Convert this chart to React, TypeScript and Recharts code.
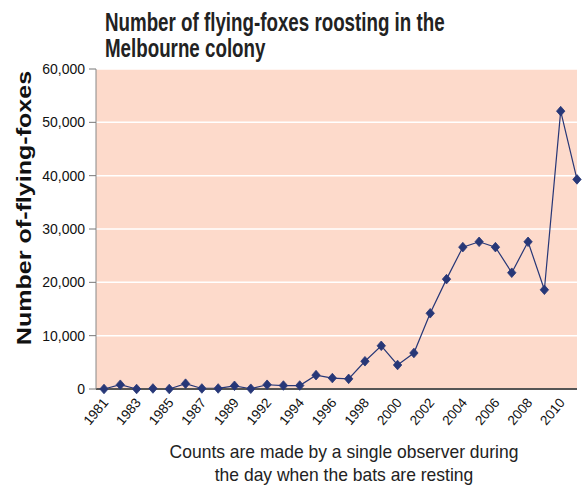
import { LineChart, Line, XAxis, YAxis, CartesianGrid } from 'recharts';

const years = [
  '1981', '1982', '1983', '1984', '1985', '1986', '1987', '1988', '1989', '1991',
  '1992', '1993', '1994', '1995', '1996', '1997', '1998', '1999', '2000', '2001',
  '2002', '2003', '2004', '2005', '2006', '2007', '2008', '2009', '2010', '2011',
];

const counts = [
  0, 800, 0, 100, 0, 1000, 100, 100, 600, 50,
  800, 650, 650, 2600, 2050, 1900, 5200, 8100, 4500, 6750,
  14200, 20600, 26600, 27600, 26600, 21800, 27600, 18600, 52100, 39300,
];

const yTicks = [0, 10000, 20000, 30000, 40000, 50000, 60000];

const data = years.map((year, i) => ({ year, count: counts[i] }));

const lineColor = '#273777';
const font = "'Liberation Sans', Arial, sans-serif";

// diamond marker
const Diamond = (props: any) => {
  const { cx, cy } = props;
  if (cx == null || cy == null) return null;
  const rx = 4.2;
  const ry = 4.8;
  return (
    <path
      d={`M${cx},${cy - ry} L${cx + rx},${cy} L${cx},${cy + ry} L${cx - rx},${cy} Z`}
      fill={lineColor}
      stroke={lineColor}
      strokeWidth={0.8}
    />
  );
};

const YearTick = (props: any) => {
  const { x, y, payload } = props;
  const tx = x + 5;
  const ty = y + 6;
  return (
    <text
      x={tx}
      y={ty}
      textAnchor="end"
      transform={`rotate(-50, ${tx}, ${ty})`}
      fontSize={13.5}
      fontFamily={font}
      fill="#111"
    >
      {payload.value}
    </text>
  );
};

export default function App() {
  return (
    <div style={{ position: 'absolute', left: 0, top: 0, width: 588, height: 488, background: '#fff' }}>
      <div
        style={{
          position: 'absolute',
          left: 105,
          top: 9,
          fontFamily: font,
          fontWeight: 700,
          fontSize: 25,
          lineHeight: '26px',
          color: '#222',
          whiteSpace: 'nowrap',
          transform: 'scaleX(0.75)',
          transformOrigin: 'left top',
        }}
      >
        Number of flying-foxes roosting in the
        <br />
        Melbourne colony
      </div>

      <LineChart
        width={588}
        height={488}
        data={data}
        margin={{ top: 69, right: 11, bottom: 0, left: 0 }}
      >
        <CartesianGrid vertical={false} stroke="#ffffff" strokeWidth={1.5} fill="#fddacb" />
        <XAxis
          dataKey="year"
          interval={1}
          padding={{ left: 8, right: 0 }}
          tickLine={false}
          axisLine={{ stroke: '#555', strokeWidth: 2 }}
          tick={<YearTick />}
          height={99}
        />
        <YAxis
          width={96}
          domain={[0, 60000]}
          ticks={yTicks}
          interval={0}
          tickFormatter={(v: number) => v.toLocaleString('en-US')}
          tickSize={7}
          tickMargin={4}
          tickLine={{ stroke: '#777' }}
          axisLine={{ stroke: '#888' }}
          tick={{ fontSize: 14, fontFamily: font, fill: '#111' }}
        />
        <Line
          type="linear"
          dataKey="count"
          stroke={lineColor}
          strokeWidth={1.2}
          dot={<Diamond />}
          activeDot={false}
          isAnimationActive={false}
        />
      </LineChart>

      <div
        style={{
          position: 'absolute',
          left: 24,
          top: 208,
          transform: 'translate(-50%, -50%) rotate(-90deg) scale(1.09, 0.9)',
          whiteSpace: 'nowrap',
          fontFamily: font,
          fontWeight: 700,
          fontSize: 23,
          lineHeight: '26px',
          color: '#111',
        }}
      >
        Number of-flying-foxes
      </div>

      <div
        style={{
          position: 'absolute',
          left: 144,
          width: 400,
          top: 440,
          textAlign: 'center',
          fontFamily: font,
          fontSize: 19,
          lineHeight: '23px',
          color: '#222',
          whiteSpace: 'nowrap',
          transform: 'scaleX(0.92)',
          transformOrigin: 'center top',
        }}
      >
        Counts are made by a single observer during
        <br />
        the day when the bats are resting
      </div>
    </div>
  );
}
